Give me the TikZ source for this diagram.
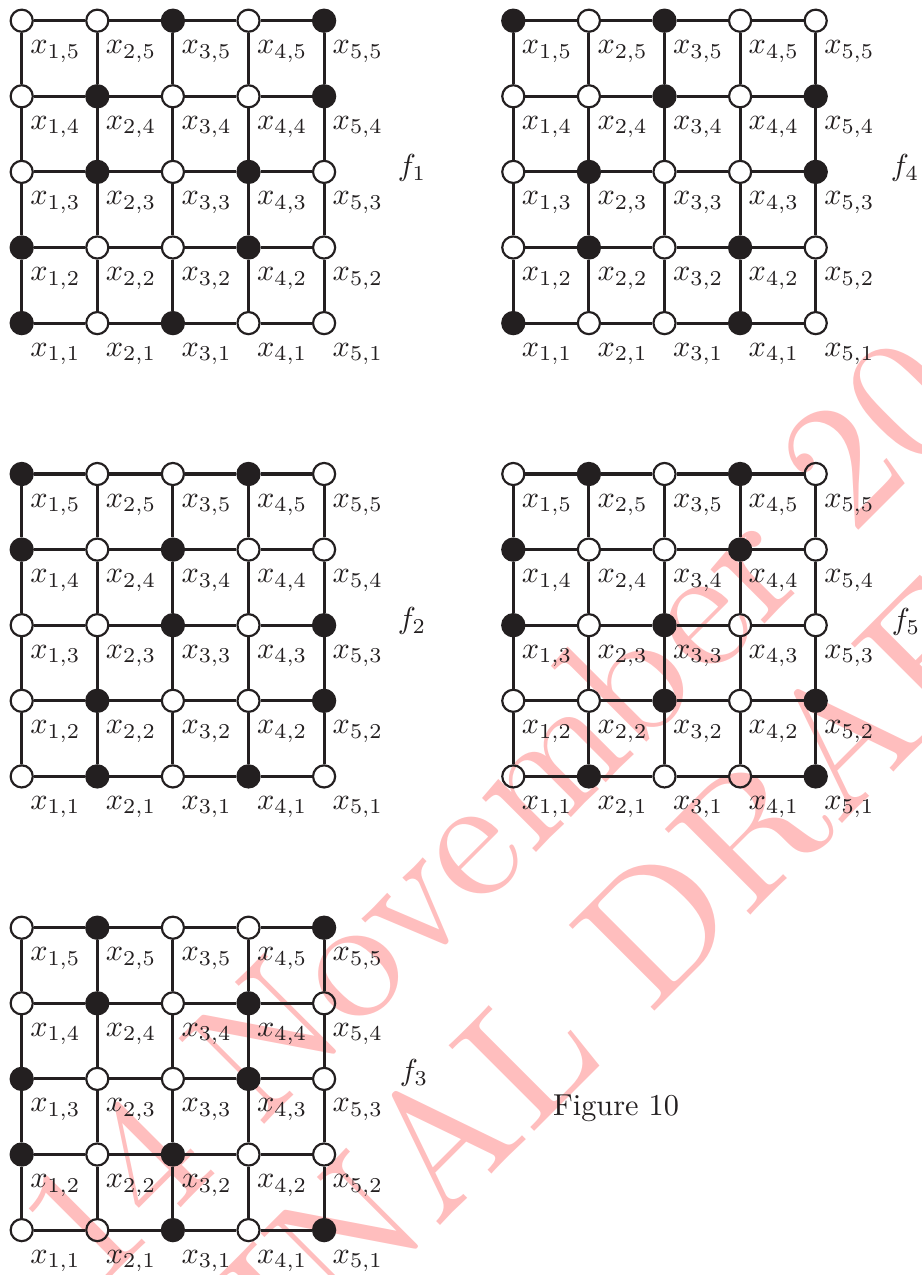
\documentclass[tikz,border=0pt]{standalone}
\definecolor{ink}{HTML}{231F20}
\definecolor{wm}{RGB}{255,190,190}
\tikzset{
 wht/.style={circle, draw=ink, line width=0.72pt, minimum size=7.3pt, inner sep=0pt},
 blk/.style={wht, fill=ink},
 gl/.style={draw=ink, line width=1pt},
 lbl/.style={inner sep=0pt, text=ink, anchor=base west},
 flbl/.style={inner sep=0pt, text=ink},
 wmk/.style={inner sep=0pt, text=wm, rotate=45, anchor=base west, font=\fontsize{10}{12}\selectfont},
}
\newcommand\drawgrid[4]{%
  \foreach \i in {1,...,5}{\foreach \j in {1,...,5}{%
    \pgfmathtruncatemacro\idx{(5-\j)*5+\i-1}%
    \pgfmathtruncatemacro\bk{{#4}[\idx]}%
    \ifnum\bk=1 \def\st{blk}\else\def\st{wht}\fi
    \node[\st] (#1-\i-\j) at ({#2+(\i-1)*75.6},{#3+(5-\j)*75.6}) {};
    \node[lbl] (#1-l\i-\j) at ({#2+(\i-1)*75.6+8},{#3+(5-\j)*75.6+33}) {$x_{\i,\j}$};
  }}%
  \foreach \i in {1,...,5}{\foreach \j in {1,...,4}{%
    \pgfmathtruncatemacro\jj{\j+1}%
    \draw[gl] (#1-\i-\j) -- (#1-\i-\jj);
    \draw[gl] (#1-\j-\i) -- (#1-\jj-\i);
  }}%
}
\begin{document}
\begin{tikzpicture}[x=0.33pt,y=-0.33pt]
\useasboundingbox (0,0) rectangle (922,1275);
\begin{scope}
\clip (0,0) rectangle (922,1275);
\node[wmk] (wm1) at (93,1296) {\scalebox{5.85}{14 November 20}};
\node[wmk] (wm2) at (215,1451) {\scalebox{5.85}{FINAL DRAFT}};
\end{scope}
\drawgrid{ga}{21.7}{20.7}{0,0,1,0,1, 0,1,0,0,1, 0,1,0,1,0, 1,0,0,1,0, 1,0,1,0,0}
\drawgrid{gd}{513.3}{20.7}{1,0,1,0,0, 0,0,1,0,1, 0,1,0,0,1, 0,1,0,1,0, 1,0,0,1,0}
\drawgrid{gb}{21.7}{474}{1,0,0,1,0, 1,0,1,0,0, 0,0,1,0,1, 0,1,0,0,1, 0,1,0,1,0}
\drawgrid{ge}{513.3}{474}{0,1,0,1,0, 1,0,0,1,0, 1,0,1,0,0, 0,0,1,0,1, 0,1,0,0,1}
\drawgrid{gc}{21.7}{927.7}{0,1,0,0,1, 0,1,0,1,0, 1,0,0,1,0, 1,0,1,0,0, 0,0,1,0,1}
\node[flbl] (f1) at (412,168) {$f_1$};
\node[flbl] (f4) at (905,168) {$f_4$};
\node[flbl] (f2) at (412,621) {$f_2$};
\node[flbl] (f5) at (906,622) {$f_5$};
\node[flbl] (f3) at (414,1073) {$f_3$};
\node[flbl] (cap) at (616,1108) {Figure 10};
\end{tikzpicture}
\end{document}
